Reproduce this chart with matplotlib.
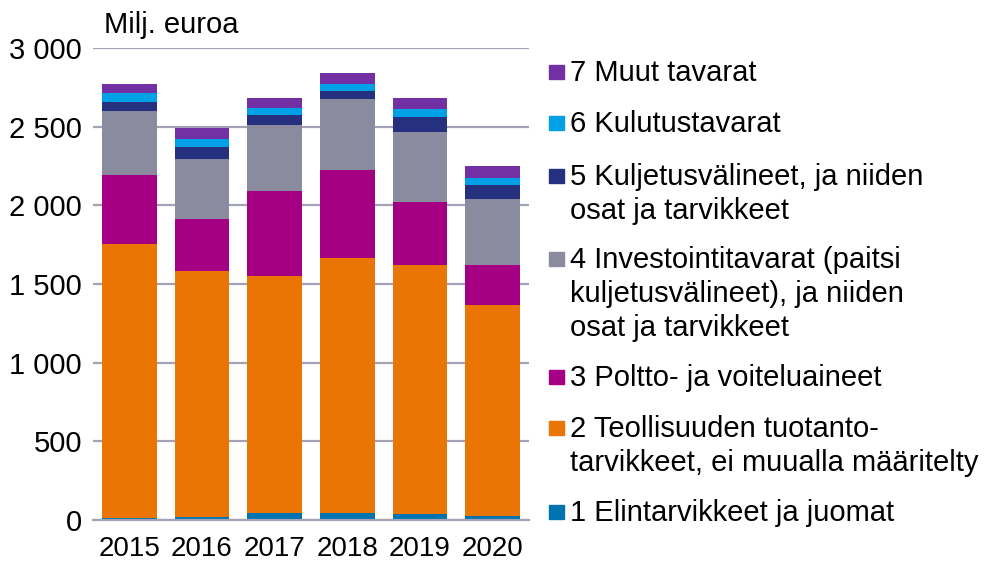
import matplotlib
matplotlib.use("Agg")
import matplotlib.pyplot as plt
from matplotlib.patches import Rectangle
import numpy as np

plt.rcParams['font.family'] = ['Liberation Sans', 'DejaVu Sans']

years = ['2015', '2016', '2017', '2018', '2019', '2020']
s1_elintarvikkeet = [15, 21, 45, 45, 38, 25]
s2_teollisuus = [1741, 1563, 1507, 1621, 1584, 1342]
s3_poltto = [438, 330, 540, 560, 400, 255]
s4_investointi = [407, 382, 420, 452, 446, 420]
s5_kuljetus = [58, 76, 64, 50, 95, 89]
s6_kulutus = [57, 51, 44, 45, 51, 44]
s7_muut = [57, 70, 64, 70, 70, 77]

series = [s1_elintarvikkeet, s2_teollisuus, s3_poltto, s4_investointi,
          s5_kuljetus, s6_kulutus, s7_muut]
labels = ['1 Elintarvikkeet ja juomat',
          '2 Teollisuuden tuotanto-\ntarvikkeet, ei muualla määritelty',
          '3 Poltto- ja voiteluaineet',
          '4 Investointitavarat (paitsi\nkuljetusvälineet), ja niiden\nosat ja tarvikkeet',
          '5 Kuljetusvälineet, ja niiden\nosat ja tarvikkeet',
          '6 Kulutustavarat',
          '7 Muut tavarat']
colors = ['#0073B0', '#EA7404', '#A50083', '#8A8B9E', '#25317F', '#00A0E6', '#7330A5']

yticks = [0, 500, 1000, 1500, 2000, 2500, 3000]
ytick_labels = ['0', '500', '1 000', '1 500', '2 000', '2 500', '3 000']

W, H = 985, 562
fig = plt.figure(figsize=(W / 100, H / 100), dpi=100)
ax = fig.add_axes([93 / W, 1 - 520 / H, (529 - 93) / W, (520 - 48) / H])

x = np.arange(len(years))
bottom = np.zeros(len(years))
for vals, c in zip(series, colors):
    ax.bar(x, vals, bottom=bottom, width=0.75, color=c, zorder=2)
    bottom += np.array(vals)

ax.set_xlim(-0.5, len(years) - 0.5)
ax.set_ylim(0, 3000)
ax.set_yticks(yticks)
ax.set_yticklabels(ytick_labels)
ax.set_xticks(x)
ax.set_xticklabels(years)
ax.tick_params(axis='both', length=0, colors='black')
ax.tick_params(axis='y', pad=8, labelsize=21)
ax.tick_params(axis='x', pad=11.5, labelsize=20)
ax.grid(axis='y', color='#A3A3B7', linewidth=1.6, zorder=0)
for s in ['top', 'right', 'left']:
    ax.spines[s].set_visible(False)
ax.spines['bottom'].set_color('#A3A3B7')
ax.spines['bottom'].set_linewidth(1.6)

fig.text(104 / W, 1 - 33 / H, 'Milj. euroa', fontsize=21, va='baseline', ha='left')

# Legend (manual, marker aligned with first line)
leg_baselines = [521, 437, 386, 268, 185, 132, 81]
line_h = 34
for lab, c, yy in zip(labels, colors, leg_baselines):
    fig.patches.append(Rectangle((549 / W, 1 - (yy - 2) / H), 15 / W, 14 / H,
                                 transform=fig.transFigure, color=c))
    for i, ln in enumerate(lab.split('\n')):
        fig.text(570 / W, 1 - (yy + i * line_h) / H, ln, fontsize=21,
                 va='baseline', ha='left')

fig.savefig('out.png', dpi=100)
